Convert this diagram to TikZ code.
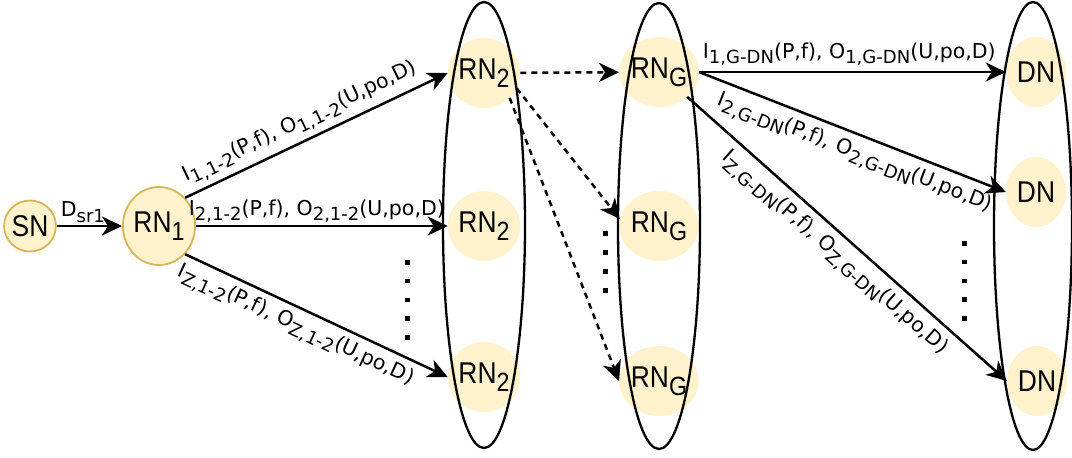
\documentclass[tikz,border=0pt]{standalone}
\usepackage{fontspec}
\usetikzlibrary{arrows.meta,shapes.geometric}
\definecolor{nodefill}{HTML}{FFF2CC}
\definecolor{nodeline}{HTML}{D6B656}
\newfontfamily\nodefont[FakeStretch=0.88]{Liberation Sans}
\newfontfamily\lblfont{DejaVu Sans}
\newcommand{\subtx}[1]{\raisebox{-0.27em}{\scalebox{0.88}{#1}}}

\begin{document}
\begin{tikzpicture}[x=1pt,y=-1pt,
    rn/.style={ellipse,fill=nodefill,minimum width=58pt,minimum height=70pt,inner sep=0pt,
      font=\nodefont\fontsize{30}{32}\selectfont},
    rnline/.style={rn,draw=nodeline,line width=1.8pt},
    grp/.style={ellipse,draw,line width=2.3pt,minimum width=82pt,minimum height=446pt,inner sep=0pt},
    edge/.style={line width=2.5pt,-{Stealth[length=20pt,width=19pt,inset=6pt]}},
    dashedge/.style={edge,dash pattern=on 6pt off 5pt},
    lbl/.style={font=\lblfont\fontsize{20.5}{24}\selectfont,inner sep=2pt}]
  \useasboundingbox (0,0) rectangle (1072,458);

  \node[rnline,minimum width=50pt,minimum height=51pt] (sn) at (30,226) {SN};
  \node[rnline,minimum width=62pt,minimum height=78pt] (rn1) at (159,226) {RN\subtx{1}};

  \node[rn] (rn2a) at (484,73) {RN\subtx{2}};
  \node[rn] (rn2b) at (484,226) {RN\subtx{2}};
  \node[rn] (rn2c) at (484,377) {RN\subtx{2}};

  \node[rn] (rnga) at (659,72) {RN\subtx{G}};
  \node[rn] (rngb) at (659,226) {RN\subtx{G}};
  \node[rn] (rngc) at (659,381) {RN\subtx{G}};

  \node[rn,minimum width=60pt] (dna) at (1036,72) {DN};
  \node[rn,minimum width=60pt] (dnb) at (1036,192) {DN};
  \node[rn,minimum width=60pt] (dnc) at (1037,381) {DN};

  \node[grp] (grpa) at (484,225) {};
  \node[grp] (grpb) at (659,226) {};
  \node[grp,minimum width=78pt,minimum height=448pt] (grpc) at (1033,226) {};

  \foreach \k in {0,...,4} \fill (405,{260+18.75*\k}) rectangle ++(4.5,4.5);
  \foreach \k in {0,...,3} \fill (603,{231+19*\k}) rectangle ++(4.5,4.5);
  \foreach \k in {0,...,4} \fill (962,{241+18.75*\k}) rectangle ++(4.5,4.5);

  \draw[edge] (sn) -- node[lbl,above,pos=0.4] {D\subtx{sr1}} (rn1);
  \draw[edge] (rn1.north east) -- node[lbl,sloped,above=3pt,pos=0.47] {I\subtx{1,1-2}(P,f), O\subtx{1,1-2}(U,po,D)} (rn2a.west);
  \draw[edge] (rn1) -- node[lbl,above,pos=0.48] {I\subtx{2,1-2}(P,f), O\subtx{2,1-2}(U,po,D)} (rn2b);
  \draw[edge] (rn1.south east) -- node[lbl,sloped,below=4pt,pos=0.45] {I\subtx{Z,1-2}(P,f), O\subtx{Z,1-2}(U,po,D)} (rn2c.west);

  \draw[dashedge] (rn2a) -- (rnga);
  \draw[dashedge] (rn2a.-25) -- (rngb.170);
  \draw[dashedge] (rn2a.south east) -- (rngc.west);

  \draw[edge] (rnga) -- node[lbl,above=3pt,pos=0.49] {I\subtx{1,G-DN}(P,f), O\subtx{1,G-DN}(U,po,D)} (dna);
  \draw[edge] (rnga.east) -- node[lbl,sloped,below=5pt,pos=0.53] {I\subtx{2,G-DN}(P,f), O\subtx{2,G-DN}(U,po,D)} (dnb.west);
  \draw[edge] (rnga.south east) -- node[lbl,sloped,below=5pt,pos=0.5] {I\subtx{Z,G-DN}(P,f), O\subtx{Z,G-DN}(U,po,D)} (dnc.west);
\end{tikzpicture}
\end{document}
